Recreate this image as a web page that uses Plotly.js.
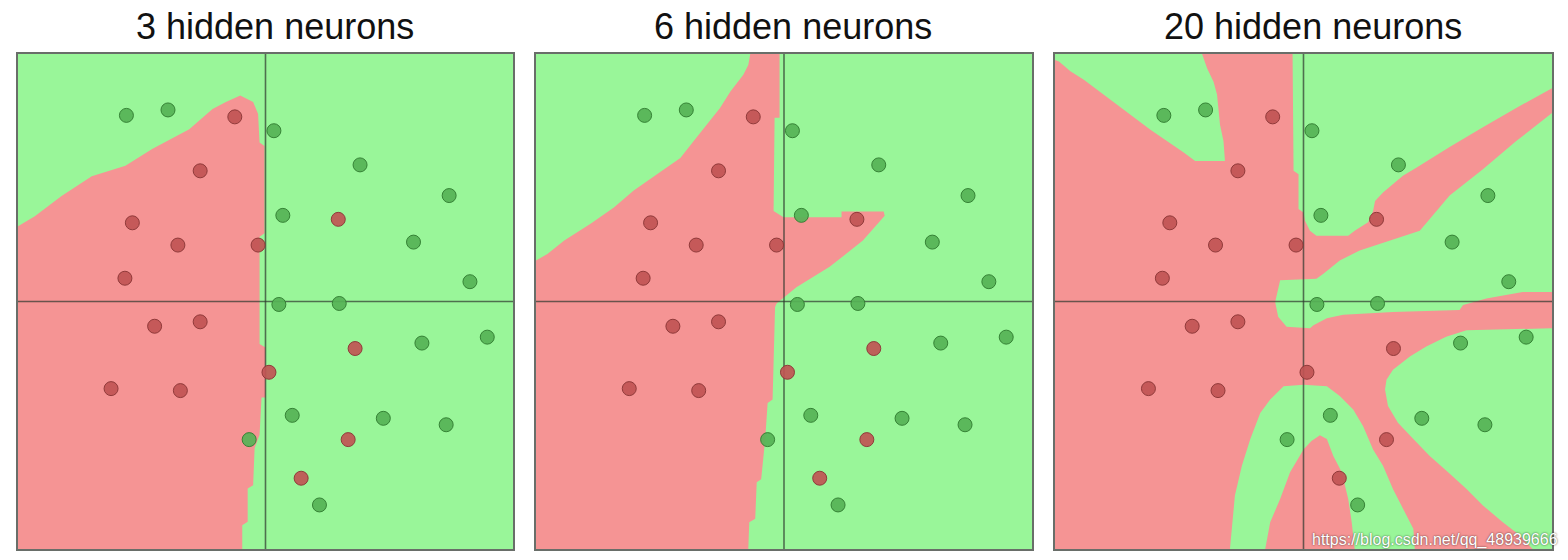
<!DOCTYPE html>
<html>
<head>
<meta charset="utf-8">
<script src="https://cdn.plot.ly/plotly-3.0.1.min.js"></script>
<style>html,body{margin:0;padding:0;background:#fff;}#chart{width:1568px;height:560px;}</style>
</head>
<body>
<div id="chart"></div>
<script>
// ---- data (units: axis range -5..5) ----
const TITLES = ["3 hidden neurons", "6 hidden neurons", "20 hidden neurons"];
const WATERMARK = "https://blog.csdn.net/qq_48939666";

const GREEN_X = [-2.81,-1.97,0.17,1.91,3.71,0.35,2.99,4.13,0.27,1.49,4.48,3.16,0.54,2.38,3.65,-0.33,1.09];
const GREEN_Y = [3.76,3.87,3.45,2.76,2.14,1.74,1.20,0.40,-0.06,-0.04,-0.72,-0.84,-2.30,-2.36,-2.49,-2.79,-4.11];
const RED_X = [-0.62,-1.32,-2.69,-1.77,-0.15,1.47,-2.84,-2.24,-1.32,1.81,0.07,-3.12,-1.72,1.67,0.72];
const RED_Y = [3.73,2.64,1.59,1.14,1.14,1.66,0.47,-0.50,-0.41,-0.95,-1.43,-1.76,-1.80,-2.79,-3.57];

// panel 1 : red region
const P1_RED_X = [-5,-4.66,-4.12,-3.51,-2.83,-2.29,-1.54,-1.07,-0.80,-0.59,-0.51,-0.25,-0.15,-0.12,-0.02,-0.02,-0.12,-0.12,0.0,0.0,-0.08,-0.12,-0.22,-0.25,-0.36,-0.36,-0.47,-0.47,-5];
const P1_RED_Y = [1.52,1.72,2.13,2.53,2.74,3.08,3.48,3.89,4.03,4.13,4.16,4.03,3.79,3.21,3.14,1.38,1.31,-0.86,-0.93,-1.94,-1.94,-2.69,-2.96,-3.71,-3.78,-4.45,-4.52,-5,-5];

// panel 2 : red region
const P2_RED_X = [-0.68,-0.09,-0.09,-0.19,-0.21,-0.01,1.16,1.16,2.01,2.03,1.59,0.92,0.25,-0.15,-0.18,-0.23,-0.33,-0.38,-0.46,-0.55,-0.58,-0.70,-0.72,-5,-5,-4.77,-4.43,-3.90,-3.43,-3.03,-2.56,-2.09,-1.82,-1.55,-1.29,-1.08,-0.82,-0.72];
const P2_RED_Y = [5,5,3.71,3.71,1.83,1.70,1.70,1.82,1.82,1.73,1.23,0.70,0.29,-0.04,-0.11,-1.98,-2.05,-2.79,-3.59,-3.65,-4.39,-4.46,-5,-5,0.83,0.96,1.23,1.57,1.90,2.24,2.57,2.90,3.24,3.57,3.91,4.24,4.58,4.78];

// panel 3 : green regions on a red field
const P3_G1_X = [-5,-2.04,-1.94,-1.81,-1.74,-1.71,-1.68,-1.61,-1.58,-2.18,-2.41,-3.08,-3.75,-4.42,-4.69,-4.92,-5];
const P3_G1_Y = [5,5,4.71,4.44,4.18,3.91,3.57,3.24,2.84,2.84,3.01,3.47,3.98,4.48,4.65,4.85,4.88];

const P3_G2_X = [-0.22,5,5,4.28,3.61,2.94,2.27,2.00,1.60,1.44,1.40,1.30,1.03,0.90,0.26,0.13,0.03,0.00,-0.10,-0.10,-0.20];
const P3_G2_Y = [5,5,4.31,3.91,3.52,3.12,2.70,2.54,2.20,2.03,1.83,1.60,1.43,1.33,1.33,1.43,1.63,1.80,1.87,2.57,2.64];

const P3_G3_X = [-0.47,0.26,0.40,0.73,1.13,2.34,2.94,3.61,4.28,5,5,4.41,3.68,3.21,3.14,1.80,0.80,0.47,0.20,0.13,-0.34,-0.51,-0.57];
const P3_G3_Y = [0.43,0.46,0.56,0.83,1.03,1.43,2.14,2.67,3.24,3.81,0.19,0.19,0.06,-0.07,-0.17,-0.21,-0.27,-0.34,-0.48,-0.54,-0.51,-0.31,-0.01];

const P3_G4_X = [5,3.28,2.87,2.47,2.14,1.80,1.67,1.64,1.70,1.90,2.21,2.54,2.91,3.28,3.61,4.01,4.35,4.61,5];
const P3_G4_Y = [-0.54,-0.58,-0.71,-0.91,-1.11,-1.38,-1.58,-1.78,-2.11,-2.45,-2.78,-3.12,-3.45,-3.79,-4.12,-4.46,-4.72,-5,-5];

const P3_G5_X = [-1.48,-1.38,-1.24,-1.07,-0.87,-0.67,-0.40,0.00,0.47,0.73,1.00,1.20,1.40,1.60,1.80,2.00,2.21,2.24,1.03,0.97,0.90,0.77,0.60,0.47,0.33,0.16,0.00,-0.27,-0.47,-0.67,-0.77];
const P3_G5_Y = [-5,-3.92,-3.32,-2.78,-2.25,-1.98,-1.71,-1.68,-1.71,-1.91,-2.18,-2.52,-2.99,-3.32,-3.79,-4.19,-4.59,-5,-5,-4.46,-3.99,-3.45,-3.12,-2.78,-2.70,-2.82,-2.99,-3.45,-3.99,-4.46,-5];

const AXIS_RANGE = [-5, 5];

// ---- styles ----
const GREEN_BG = 'rgb(153,246,153)';
const RED_BG = 'rgb(245,148,148)';
const GREEN_PT = 'rgba(86,178,86,0.92)';
const GREEN_PT_LINE = 'rgba(50,125,50,0.95)';
const RED_PT = 'rgba(192,84,84,0.92)';
const RED_PT_LINE = 'rgba(140,55,55,0.95)';
const CROSS = 'rgba(45,55,45,0.7)';

function region(xs, ys, color, ax) {
  return {type: 'scatter', mode: 'lines', x: xs, y: ys, fill: 'toself', fillcolor: color,
          line: {width: 0, color: color}, xaxis: 'x' + ax, yaxis: 'y' + ax, hoverinfo: 'skip'};
}
function cross(ax) {
  return [
    {type: 'scatter', mode: 'lines', x: [0, 0], y: AXIS_RANGE, line: {color: CROSS, width: 1.6}, xaxis: 'x' + ax, yaxis: 'y' + ax},
    {type: 'scatter', mode: 'lines', x: AXIS_RANGE, y: [0, 0], line: {color: CROSS, width: 1.6}, xaxis: 'x' + ax, yaxis: 'y' + ax}
  ];
}
function points(ax) {
  return [
    {type: 'scatter', mode: 'markers', x: GREEN_X, y: GREEN_Y, xaxis: 'x' + ax, yaxis: 'y' + ax,
     marker: {size: 14, color: GREEN_PT, line: {color: GREEN_PT_LINE, width: 1}}},
    {type: 'scatter', mode: 'markers', x: RED_X, y: RED_Y, xaxis: 'x' + ax, yaxis: 'y' + ax,
     marker: {size: 14, color: RED_PT, line: {color: RED_PT_LINE, width: 1}}}
  ];
}

const traces = [].concat(
  [region(P1_RED_X, P1_RED_Y, RED_BG, '')], cross(''), points(''),
  [region(P2_RED_X, P2_RED_Y, RED_BG, '2')], cross('2'), points('2'),
  [region(P3_G1_X, P3_G1_Y, GREEN_BG, '3'), region(P3_G2_X, P3_G2_Y, GREEN_BG, '3'),
   region(P3_G3_X, P3_G3_Y, GREEN_BG, '3'), region(P3_G4_X, P3_G4_Y, GREEN_BG, '3'),
   region(P3_G5_X, P3_G5_Y, GREEN_BG, '3')], cross('3'), points('3')
);

const W = 1568, H = 560;
const xDomains = [[18 / W, 513 / W], [536 / W, 1032 / W], [1055 / W, 1552 / W]];
const yDomain = [(H - 549) / H, (H - 54) / H];

function axis(dom, anchor) {
  return {domain: dom, range: AXIS_RANGE, anchor: anchor, showgrid: false, zeroline: false,
          showticklabels: false, ticks: '', showline: true, mirror: true,
          linecolor: 'rgb(105,110,105)', linewidth: 1.8, fixedrange: true};
}

const layout = {
  width: W, height: H,
  margin: {l: 0, r: 0, t: 0, b: 0},
  paper_bgcolor: '#ffffff',
  plot_bgcolor: GREEN_BG,
  showlegend: false,
  hovermode: false,
  xaxis: axis(xDomains[0], 'y'), yaxis: axis(yDomain, 'x'),
  xaxis2: axis(xDomains[1], 'y2'), yaxis2: axis(yDomain, 'x2'),
  xaxis3: axis(xDomains[2], 'y3'), yaxis3: axis(yDomain, 'x3'),
  shapes: [{type: 'rect', xref: 'x3 domain', yref: 'y3 domain', x0: 0, x1: 1, y0: 0, y1: 1,
            fillcolor: RED_BG, line: {width: 0}, layer: 'below'}],
  annotations: TITLES.map((t, i) => ({
    text: t, xref: (i === 0 ? 'x' : 'x' + (i + 1)) + ' domain', x: 0.5, xshift: 9,
    yref: 'paper', y: 1, yanchor: 'top', yshift: -4, showarrow: false,
    font: {family: 'Liberation Sans, Arial, sans-serif', size: 36, color: '#111111'}
  })).concat([{
    text: WATERMARK, xref: 'paper', x: 1560 / W, xanchor: 'right',
    yref: 'paper', y: 20 / H, yanchor: 'middle', showarrow: false,
    font: {family: 'Liberation Sans, Arial, sans-serif', size: 16, color: '#ffffff', shadow: '0px 0px 2px rgba(0,0,0,0.75)'}
  }])
};

Plotly.newPlot('chart', traces, layout, {staticPlot: true, displayModeBar: false});
</script>
</body>
</html>
